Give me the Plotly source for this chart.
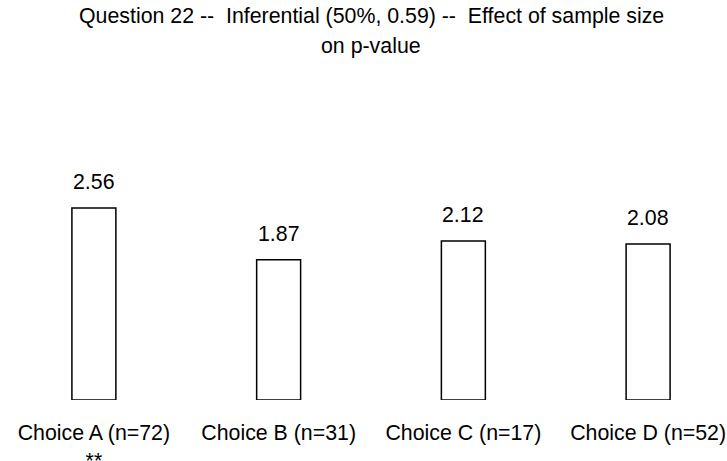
import plotly.graph_objects as go

categories = ["Choice A (n=72)", "Choice B (n=31)", "Choice C (n=17)", "Choice D (n=52)"]
marks = ["**", "", "", ""]
values = [2.56, 1.87, 2.12, 2.08]
value_labels = ["2.56", "1.87", "2.12", "2.08"]
title_lines = ["Question 22 --  Inferential (50%, 0.59) --  Effect of sample size",
               "on p-value"]

positions = list(range(len(categories)))
ticktext = [c + ("<br>" + m if m else "") for c, m in zip(categories, marks)]

FONT = "Liberation Sans, Arial, Helvetica, sans-serif"
FS = 21.33

fig = go.Figure()
fig.add_trace(go.Bar(
    x=positions, y=values, width=0.238,
    marker=dict(color="white", line=dict(color="black", width=1.5)),
    hoverinfo="skip",
))
for x, v, t in zip(positions, values, value_labels):
    fig.add_annotation(x=x, y=v, text=t, showarrow=False, yanchor="bottom",
                       yshift=12, font=dict(size=FS, color="black", family=FONT))

# title lines, centred over the plotting region
for line, shift in zip(title_lines, [130, 100]):
    fig.add_annotation(x=0.5, y=1, xref="paper", yref="paper", text=line,
                       showarrow=False, xanchor="center", yanchor="bottom",
                       yshift=shift, font=dict(size=FS, color="black", family=FONT))

fig.update_layout(
    width=727, height=461,
    margin=dict(l=20, r=5, t=160, b=61, autoexpand=False),
    paper_bgcolor="white", plot_bgcolor="white",
    showlegend=False, hovermode=False,
    font=dict(family=FONT, size=FS, color="black"),
    xaxis=dict(range=[-0.4, 3.4], tickvals=positions, ticktext=ticktext,
               showgrid=False, zeroline=False, showline=False, ticks="",
               automargin=False, ticklabelstandoff=18,
               tickfont=dict(size=FS, color="black", family=FONT)),
    yaxis=dict(range=[0, 3.2], visible=False, showgrid=False, zeroline=False,
               automargin=False),
)
fig.write_html(
    "out.html",
    config={"displayModeBar": False, "staticPlot": True},
    post_script="document.body.style.margin='0';document.body.style.overflow='hidden';",
)
